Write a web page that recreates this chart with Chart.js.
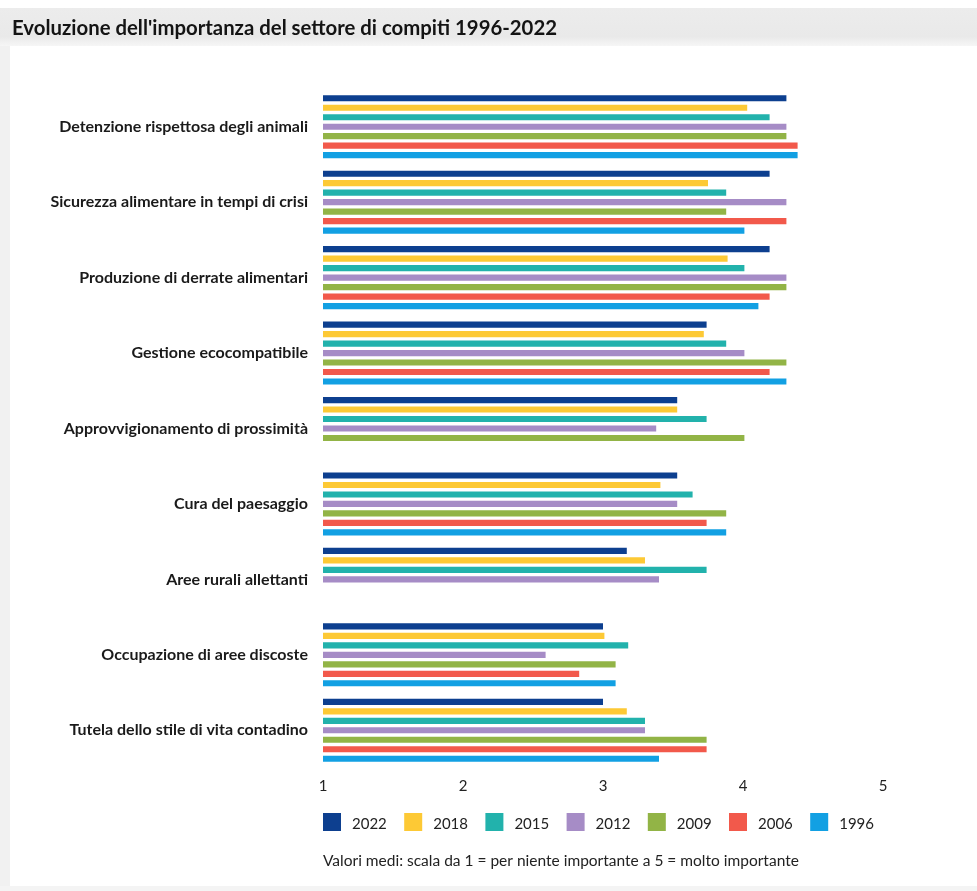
<!DOCTYPE html>
<html>
<head>
<meta charset="utf-8">
<script src="https://cdn.jsdelivr.net/npm/chart.js@4.4.1/dist/chart.umd.min.js"></script>
<style>
  html, body { margin: 0; padding: 0; background: #ffffff; }
  canvas { display: block; }
</style>
</head>
<body>
<canvas id="chart" width="977" height="891"></canvas>
<script>
// Compiti del settore agricolo: valori medi per anno d'indagine
const categories = [
  "Detenzione rispettosa degli animali",
  "Sicurezza alimentare in tempi di crisi",
  "Produzione di derrate alimentari",
  "Gestione ecocompatibile",
  "Approvvigionamento di prossimità",
  "Cura del paesaggio",
  "Aree rurali allettanti",
  "Occupazione di aree discoste",
  "Tutela dello stile di vita contadino"
];

const years = ["2022", "2018", "2015", "2012", "2009", "2006", "1996"];

const values2022 = [4.31, 4.19, 4.19, 3.74, 3.53, 3.53, 3.17, 3.00, 3.00];
const values2018 = [4.03, 3.75, 3.89, 3.72, 3.53, 3.41, 3.30, 3.01, 3.17];
const values2015 = [4.19, 3.88, 4.01, 3.88, 3.74, 3.64, 3.74, 3.18, 3.30];
const values2012 = [4.31, 4.31, 4.31, 4.01, 3.38, 3.53, 3.40, 2.59, 3.30];
const values2009 = [4.31, 3.88, 4.31, 4.31, 4.01, 3.88, null, 3.09, 3.74];
const values2006 = [4.39, 4.31, 4.19, 4.19, null, 3.74, null, 2.83, 3.74];
const values1996 = [4.39, 4.01, 4.11, 4.31, null, 3.88, null, 3.09, 3.40];

const xTicks = [1, 2, 3, 4, 5];

const titleText = "Evoluzione dell'importanza del settore di compiti 1996-2022";
const noteText = "Valori medi: scala da 1 = per niente importante a 5 = molto importante";

const seriesValues = [values2022, values2018, values2015, values2012, values2009, values2006, values1996];
const seriesColors = ["#0d3f8f", "#fdc935", "#22b2ac", "#a68cc6", "#92b446", "#f2594b", "#12a0e3"];

const datasets = years.map((y, i) => ({
  label: y,
  data: seriesValues[i],
  backgroundColor: seriesColors[i],
  borderWidth: 0,
  base: xTicks[0],
  categoryPercentage: 0.88,
  barPercentage: 0.65
}));

// Background panels, title, legend row and footnote
const decor = {
  id: "decor",
  beforeDraw(chart) {
    const ctx = chart.ctx;
    ctx.save();
    ctx.fillStyle = "#ffffff";
    ctx.fillRect(0, 0, chart.width, chart.height);
    const g = ctx.createLinearGradient(0, 8, 0, 46);
    g.addColorStop(0, "#ececec");
    g.addColorStop(0.75, "#e9e9e9");
    g.addColorStop(1, "#f6f6f6");
    ctx.fillStyle = g;
    ctx.fillRect(0, 8, chart.width, 38);
    ctx.fillStyle = "#f1f1f1";
    ctx.fillRect(0, 46, 10, chart.height - 46);
    ctx.fillStyle = "#f4f4f4";
    ctx.fillRect(0, chart.height - 5, chart.width, 5);
    ctx.restore();
  },
  afterDraw(chart) {
    const ctx = chart.ctx;
    const area = chart.chartArea;
    ctx.save();

    // title, set in a condensed bold face
    ctx.fillStyle = "#141414";
    ctx.font = "bold 21px Lato";
    ctx.textBaseline = "alphabetic";
    ctx.textAlign = "left";
    const tw = ctx.measureText(titleText).width;
    ctx.translate(12, 35);
    ctx.scale(545 / tw, 1);
    ctx.fillText(titleText, 0, 0);
    ctx.setTransform(1, 0, 0, 1, 0, 0);

    // legend row
    ctx.font = "15px Lato";
    chart.data.datasets.forEach((ds, i) => {
      const x = area.left + i * 81.2;
      ctx.fillStyle = ds.backgroundColor;
      ctx.fillRect(x, 813, 18, 18);
      ctx.fillStyle = "#222";
      ctx.fillText(ds.label, x + 29, 828.5);
    });

    // footnote
    ctx.font = "15.5px Lato";
    ctx.fillStyle = "#222";
    ctx.fillText(noteText, area.left, 866);
    ctx.restore();
  }
};

new Chart(document.getElementById("chart"), {
  type: "bar",
  data: { labels: categories, datasets },
  options: {
    indexAxis: "y",
    responsive: false,
    animation: false,
    layout: { padding: { top: 89, right: 94, bottom: 95, left: 0 } },
    plugins: {
      legend: { display: false },
      tooltip: { enabled: false },
      title: { display: false }
    },
    scales: {
      x: {
        type: "linear",
        min: xTicks[0],
        max: xTicks[xTicks.length - 1],
        afterBuildTicks(scale) { scale.ticks = xTicks.map(v => ({ value: v })); },
        afterFit(scale) { scale.height = 28; },
        grid: { display: false, drawTicks: false },
        border: { display: false },
        ticks: { padding: 9, color: "#222", font: { family: "Lato", size: 15 } }
      },
      y: {
        afterFit(scale) { scale.width = 323; },
        grid: { display: false, drawTicks: false },
        border: { display: false },
        ticks: {
          autoSkip: false,
          padding: 15,
          color: "#1a1a1a",
          font: { family: "Lato", size: 16, weight: "bold" }
        }
      }
    }
  },
  plugins: [decor]
});
</script>
</body>
</html>
